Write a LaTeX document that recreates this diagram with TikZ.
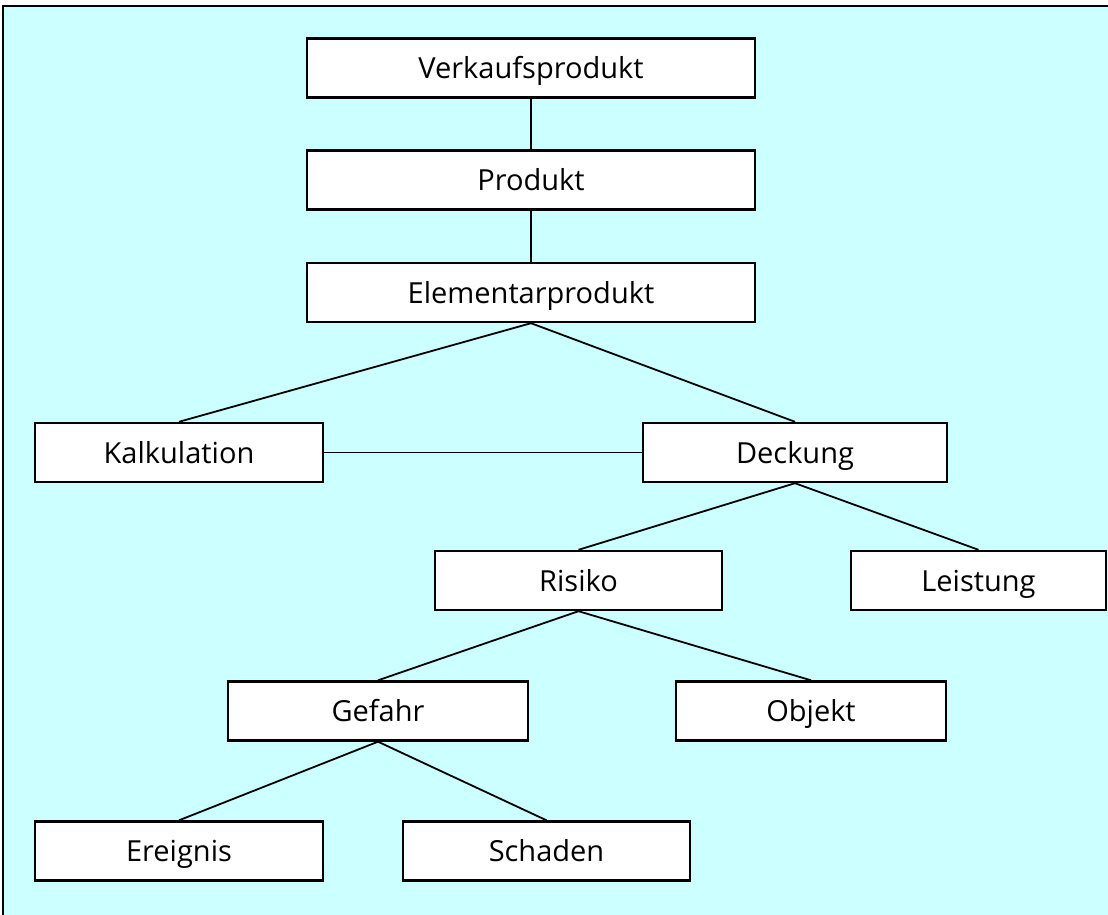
\documentclass[tikz,border=0pt]{standalone}
\usepackage{fontspec}
\setmainfont{Open Sans}
\definecolor{panel}{RGB}{204,255,255}
\begin{document}
\begin{tikzpicture}[x=1pt,y=-1pt,
  box/.style={draw=black, fill=white, line width=2.4pt, rectangle, inner sep=0pt,
    minimum height=59pt, font=\fontsize{29}{33}\selectfont,
    text height=21pt, text depth=0pt},
  link/.style={draw=black, line width=1.8pt}]
\useasboundingbox (0,0) rectangle (1108,915);
% panel background with its top and left edge
\fill[panel] (2,6) rectangle (1108,915);
\draw[line width=2pt] (1108,6) -- (2.5,6) -- (2.5,915);

\node[box, minimum width=448pt] (vp) at (531,68) {Verkaufsprodukt};
\node[box, minimum width=448pt] (pr) at (531,180) {Produkt};
\node[box, minimum width=448pt] (ep) at (531,292.5) {Elementarprodukt};
\node[box, minimum width=288pt] (ka) at (179,452.5) {Kalkulation};
\node[box, minimum width=304pt] (de) at (795,452.5) {Deckung};
\node[box, minimum width=287pt] (ri) at (578.5,580.5) {Risiko};
\node[box, minimum width=255pt] (le) at (978.5,580.5) {Leistung};
\node[box, minimum width=300pt] (ge) at (378,711) {Gefahr};
\node[box, minimum width=270pt] (ob) at (811,711) {Objekt};
\node[box, minimum width=288pt] (er) at (179,851) {Ereignis};
\node[box, minimum width=287pt] (sc) at (546.5,851) {Schaden};

\draw[link] (vp.south) -- (pr.north);
\draw[link] (pr.south) -- (ep.north);
\draw[link] (ep.south) -- (ka.north);
\draw[link] (ep.south) -- (de.north);
\draw[link] (ka.east) -- (de.west);
\draw[link] (de.south) -- (ri.north);
\draw[link] (de.south) -- (le.north);
\draw[link] (ri.south) -- (ge.north);
\draw[link] (ri.south) -- (ob.north);
\draw[link] (ge.south) -- (er.north);
\draw[link] (ge.south) -- (sc.north);
\end{tikzpicture}
\end{document}
